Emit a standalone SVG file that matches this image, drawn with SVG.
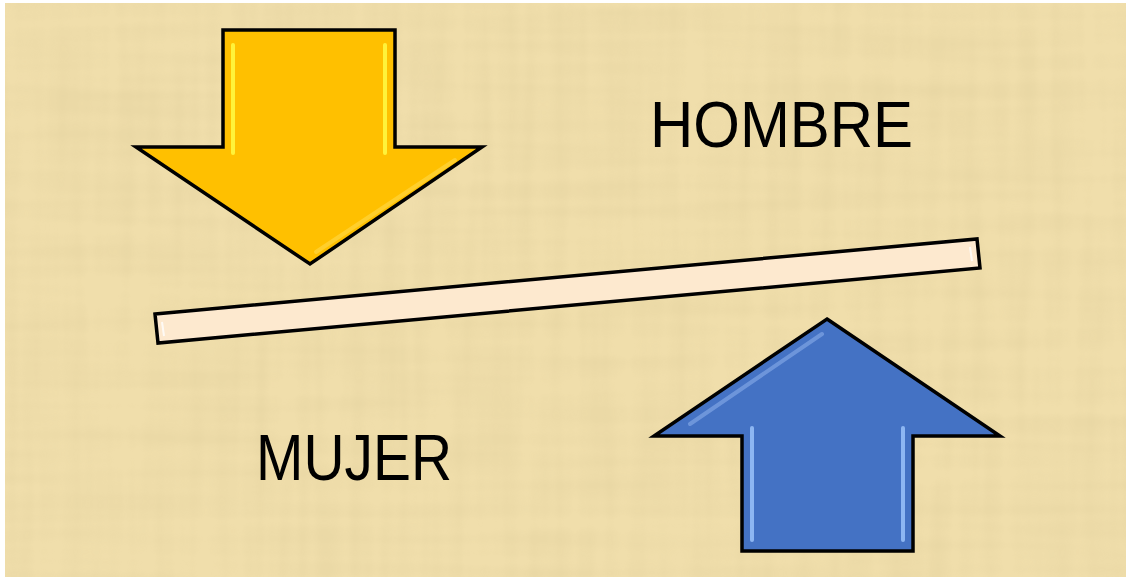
<svg xmlns="http://www.w3.org/2000/svg" width="1126" height="577" viewBox="0 0 1126 577">
  <defs>
    <filter id="papyrus" x="0" y="0" width="100%" height="100%">
      <feTurbulence type="fractalNoise" baseFrequency="0.004 0.06" numOctaves="2" seed="3" result="h"/>
      <feTurbulence type="fractalNoise" baseFrequency="0.06 0.004" numOctaves="2" seed="7" result="v"/>
      <feComposite in="h" in2="v" operator="arithmetic" k2="0.5" k3="0.5" result="n"/>
      <feColorMatrix in="n" type="matrix" values="0 0 0 0 0.6  0 0 0 0 0.5  0 0 0 0 0.25  0 0 0 -1.6 1.0"/>
    </filter>
    <style>
      .arrow { stroke: #000; stroke-width: 3.5; stroke-linejoin: miter; }
      .label { font-family: "Liberation Sans", Arial, sans-serif; fill: #000; }
      .hl { fill: none; stroke-width: 4; stroke-linecap: round; }
    </style>
  </defs>
  <rect x="0" y="0" width="1126" height="577" fill="#ffffff"/>
  <rect x="5" y="3" width="1121" height="574" fill="#F0DEAB"/>
  <rect x="5" y="3" width="1121" height="574" fill="#F0DEAB" filter="url(#papyrus)" opacity="0.28"/>

  <g id="arrow-down">
    <polygon class="arrow" fill="#FFC000" points="223,30 395,30 395,147 482,147 310,264 136,147 223,147"/>
    <line class="hl" stroke="#FFF23A" x1="233" y1="45" x2="233" y2="153"/>
    <line class="hl" stroke="#FFF23A" x1="385" y1="45" x2="385" y2="153"/>
    <line class="hl" stroke="#FFD84A" stroke-width="2" x1="455" y1="160" x2="316" y2="252" opacity="0.6"/>
  </g>

  <g id="arrow-up">
    <polygon class="arrow" fill="#4472C4" points="827,319 1000,436 913,436 913,551 742,551 742,436 654,436"/>
    <line class="hl" stroke="#8DB6F2" x1="752" y1="428" x2="752" y2="540"/>
    <line class="hl" stroke="#8DB6F2" x1="903" y1="428" x2="903" y2="540"/>
    <line class="hl" stroke="#7FA4E4" stroke-width="2" x1="690" y1="424" x2="822" y2="334" opacity="0.7"/>
  </g>

  <g id="bar">
    <polygon class="arrow" fill="#FDE9CF" stroke-width="4" points="155,314 977,239 980,268 158,343"/>
    <line stroke="#FFFFFF" stroke-width="2" x1="162" y1="322" x2="164" y2="336" opacity="0.8"/>
    <line stroke="#FFFFFF" stroke-width="2" x1="970" y1="247" x2="972" y2="261" opacity="0.8"/>
  </g>

  <g id="hombre">
    <text class="label" x="650" y="147" font-size="64" textLength="263" lengthAdjust="spacingAndGlyphs">HOMBRE</text>
  </g>
  <g id="mujer">
    <text class="label" x="256" y="480" font-size="64" textLength="196" lengthAdjust="spacingAndGlyphs">MUJER</text>
  </g>
  <g id="connectors"/>
</svg>
